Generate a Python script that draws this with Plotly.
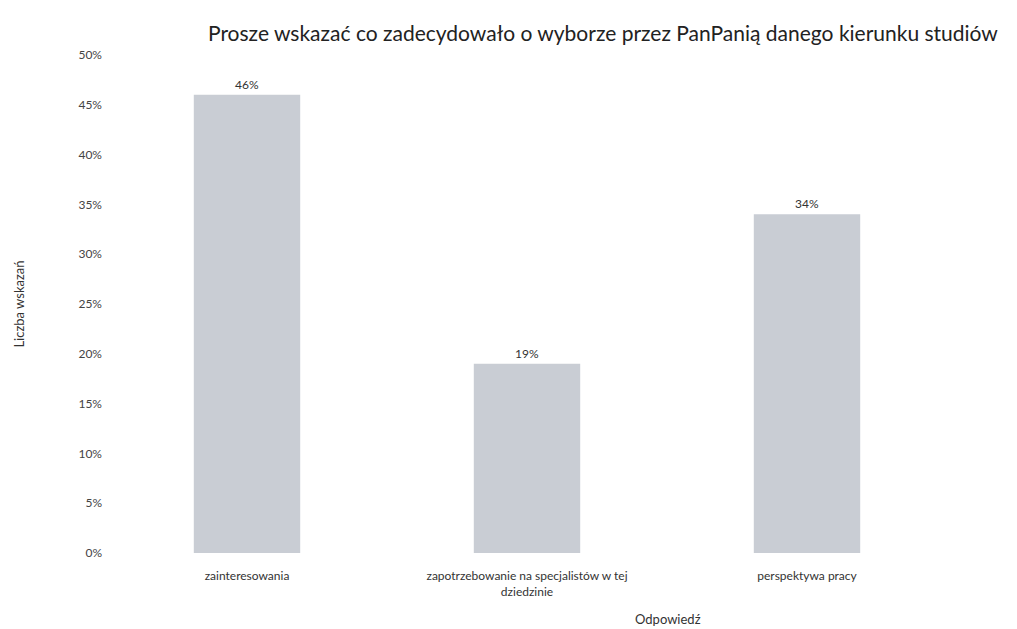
import plotly.graph_objects as go

categories = ["zainteresowania",
              "zapotrzebowanie na specjalistów w tej<br>dziedzinie",
              "perspektywa pracy"]
values = [0.46, 0.19, 0.34]
value_labels = ["46%", "19%", "34%"]
tick_vals = [0, 0.05, 0.10, 0.15, 0.20, 0.25, 0.30, 0.35, 0.40, 0.45, 0.50]
tick_text = ["0%", "5%", "10%", "15%", "20%", "25%", "30%", "35%", "40%", "45%", "50%"]

font_family = "Lato, 'Open Sans', sans-serif"

fig = go.Figure()
fig.add_trace(go.Bar(
    x=categories, y=values,
    marker=dict(color="#c9cdd4", line=dict(width=0)),
    width=0.38,
    text=value_labels, textposition="outside",
    textfont=dict(family=font_family, size=12, color="#333333"),
    cliponaxis=False,
))

fig.update_layout(
    width=1017, height=629,
    paper_bgcolor="white", plot_bgcolor="white",
    margin=dict(l=99, r=78, t=47, b=84),
    showlegend=False,
    title=dict(text="Prosze wskazać co zadecydowało o wyborze przez PanPanią danego kierunku studiów",
               x=0.585, xanchor="center", y=0.96, yanchor="middle",
               font=dict(family=font_family, size=21, color="#222222")),
    font=dict(family=font_family, color="#333333"),
)
fig.update_xaxes(showline=False, showgrid=False, ticks="",
                 ticklabelstandoff=14,
                 tickfont=dict(size=12, family=font_family, color="#333333"))
fig.update_yaxes(range=[0, 0.5], tickvals=tick_vals, ticktext=tick_text,
                 showgrid=False, showline=False, zeroline=False, ticks="",
                 ticklabelstandoff=4,
                 tickfont=dict(size=12, family=font_family, color="#444444"),
                 title=dict(text="Liczba wskazań", standoff=50,
                            font=dict(size=13, family=font_family, color="#333333")))
fig.add_annotation(text="Odpowiedź", xref="paper", yref="paper",
                   x=0.668, y=-0.1325, xanchor="center", yanchor="middle",
                   showarrow=False,
                   font=dict(size=13, family=font_family, color="#333333"))

fig.write_html("out.html")
